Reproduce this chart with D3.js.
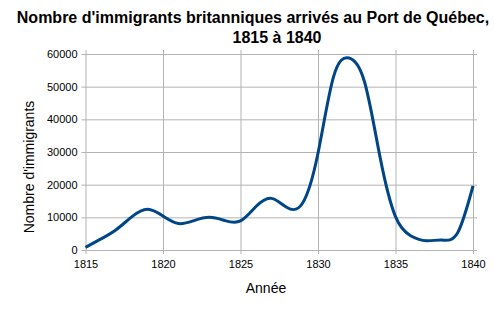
<!DOCTYPE html>
<meta charset="utf-8">
<head>
    <script src="https://d3js.org/d3.v7.min.js"></script>
    <style>
    body { margin: 0; background: #fff; }
    .title { font-family: "Liberation Sans", Arial, sans-serif; font-weight: bold; font-size: 16px; fill: #000; }
    .axis text { font-family: "Liberation Sans", Arial, sans-serif; font-size: 11px; fill: #000; }
    .axis path { display: none; }
    .axis line { stroke: #b3b3b3; }
    .label { font-family: "Liberation Sans", Arial, sans-serif; font-size: 14px; fill: #000; }
    </style>
</head>
<body>
<svg id="chart"></svg>
<script>
// years and immigrants
var years = [1815, 1816, 1817, 1818, 1819, 1820, 1821, 1822, 1823, 1824, 1825, 1826, 1827,
             1828, 1829, 1830, 1831, 1832, 1833, 1834, 1835, 1836, 1837, 1838, 1839, 1840];
var immigrants = [800, 3400, 6300, 10200, 12450, 10400, 8100, 9000, 10000, 9000, 8900, 13300, 15800,
                  13000, 14300, 29600, 53000, 58800, 51500, 28500, 10200, 4300, 2850, 3050, 5200, 19600];
var xTicks = [1815, 1820, 1825, 1830, 1835, 1840];
var yTicks = [0, 10000, 20000, 30000, 40000, 50000, 60000];

var W = 494, H = 310;
var margin = {top: 54, right: 21, bottom: 60, left: 85.5},
    width = W - margin.left - margin.right,
    height = H - margin.top - margin.bottom;

var svgRoot = d3.select("#chart").attr("width", W).attr("height", H);

svgRoot.append("text").attr("class", "title")
    .attr("x", 253).attr("y", 23).attr("text-anchor", "middle")
    .text("Nombre d'immigrants britanniques arrivés au Port de Québec,");
svgRoot.append("text").attr("class", "title")
    .attr("x", 277).attr("y", 43).attr("text-anchor", "middle")
    .text("1815 à 1840");

var svg = svgRoot.append("g")
    .attr("transform", "translate(" + margin.left + "," + margin.top + ")");

var x = d3.scaleLinear().domain([1815, 1840]).range([0, width]);
var y = d3.scaleLinear().domain([0, 60000]).range([height, 0]);

// gridlines + ticks
svg.append("g")
    .attr("class", "axis")
    .attr("transform", "translate(0," + height + ")")
    .call(d3.axisBottom(x).tickValues(xTicks).tickFormat(d3.format("d"))
        .tickSizeInner(-height - 4).tickPadding(10))
    .selectAll(".tick line").attr("y1", 4);

svg.append("g")
    .attr("class", "axis")
    .call(d3.axisLeft(y).tickValues(yTicks).tickFormat(d3.format("d"))
        .tickSizeInner(-width - 4).tickPadding(8))
    .selectAll(".tick line").attr("x1", -4);

// axis labels
svgRoot.append("text").attr("class", "label")
    .attr("x", 266).attr("y", 293).attr("text-anchor", "middle")
    .text("Année");
svgRoot.append("text").attr("class", "label")
    .attr("transform", "translate(34,167) rotate(-90)")
    .attr("text-anchor", "middle")
    .text("Nombre d'immigrants");

// the line
var data = years.map(function(d, i) { return {year: d, value: immigrants[i]}; });
svg.append("path")
    .datum(data)
    .attr("fill", "none")
    .attr("stroke", "#004586")
    .attr("stroke-width", 3)
    .attr("d", d3.line()
        .curve(d3.curveNatural)
        .x(function(d) { return x(d.year); })
        .y(function(d) { return y(d.value); }));
</script>
</body>
